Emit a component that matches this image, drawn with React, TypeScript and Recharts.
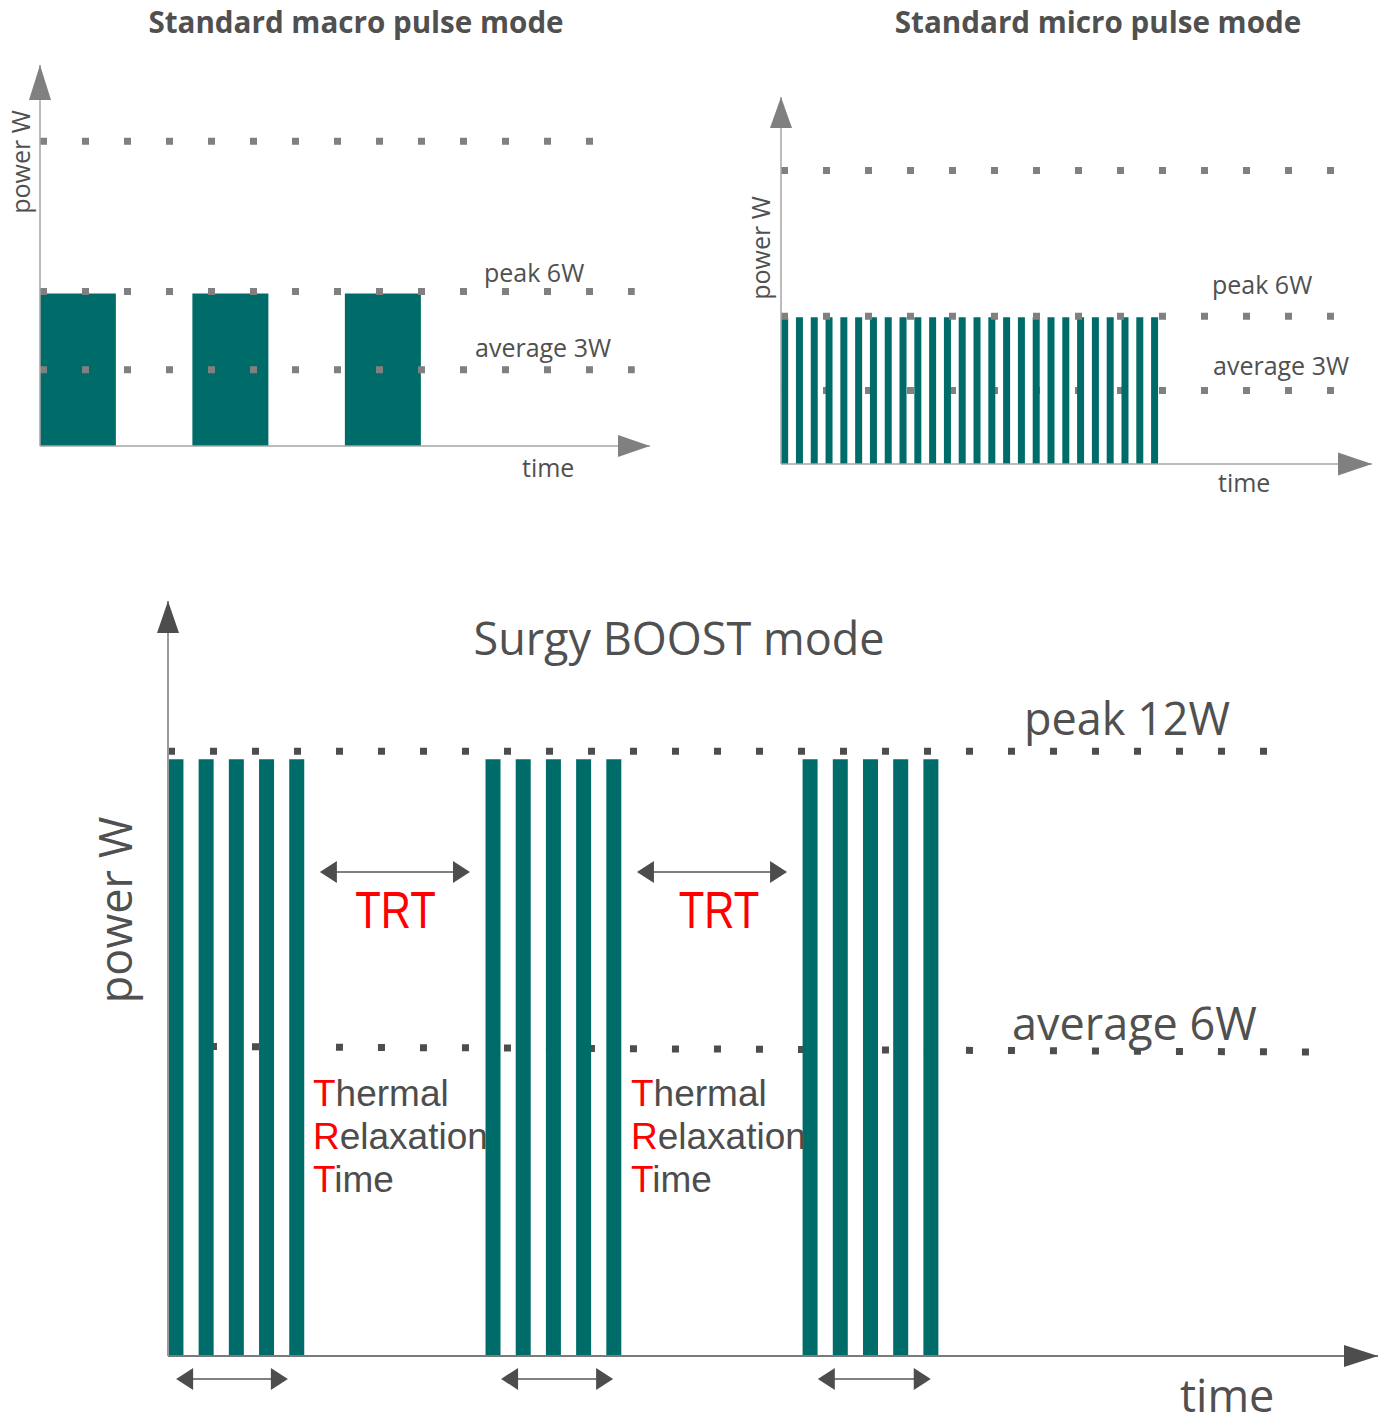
import React from 'react';
import { ComposedChart, Bar, XAxis, YAxis, ReferenceLine, ReferenceDot } from 'recharts';

// pulse centres (in pulse-slot units) and power in W
const macroTime = [0.5, 2.5, 4.5];
const macroPower = [6, 6, 6];

const microTime = [0, 1, 2, 3, 4, 5, 6, 7, 8, 9, 10, 11, 12, 13, 14, 15, 16, 17, 18, 19, 20, 21, 22, 23, 24, 25];
const microPower = [6, 6, 6, 6, 6, 6, 6, 6, 6, 6, 6, 6, 6, 6, 6, 6, 6, 6, 6, 6, 6, 6, 6, 6, 6, 6];

const boostTime = [0, 1, 2, 3, 4, 10.5, 11.5, 12.5, 13.5, 14.5, 21, 22, 23, 24, 25];
const boostPower = [12, 12, 12, 12, 12, 12, 12, 12, 12, 12, 12, 12, 12, 12, 12];

// guide levels: top guide, peak, average
const standardLevels = [12, 6, 3];
const boostLevels = [12, 6];

// thermal relaxation time spans and burst spans (time units)
const trtSpans = [[4.78, 9.75], [15.28, 20.25]];
const trtLevel = 9.73;
const burstSpans = [[0.02, 3.72], [10.78, 14.49], [21.27, 25.01]];
const burstLevel = -0.46;

const TEAL = '#006c69';
const GREY = '#808080';
const DARK = '#4d4d4d';
const TEXT = '#505050';

const macroData = macroTime.map((t, i) => ({ t, p: macroPower[i] }));
const microData = microTime.map((t, i) => ({ t, p: microPower[i] }));
const boostData = boostTime.map((t, i) => ({ t, p: boostPower[i] }));

const arrowRight = (len: number, half: number, fill: string) => (p: any) => (
  <polygon points={`${p.cx},${p.cy} ${p.cx - len},${p.cy - half} ${p.cx - len},${p.cy + half}`} fill={fill} />
);
const arrowUp = (len: number, half: number, fill: string) => (p: any) => (
  <polygon points={`${p.cx},${p.cy} ${p.cx - half},${p.cy + len} ${p.cx + half},${p.cy + len}`} fill={fill} />
);

const dotted = (color: string, size: number, liftL = 0, liftR = 0) => (p: any) => (
  <line
    x1={p.x1}
    y1={p.y1 - liftL}
    x2={p.x2}
    y2={p.y2 - liftR}
    stroke={color}
    strokeWidth={size}
    strokeDasharray={`${size} ${42 - size}`}
  />
);

const doubleArrow = (p: any) => {
  const { x1, x2, y1: y } = p;
  return (
    <g>
      <line x1={x1 + 10} y1={y} x2={x2 - 10} y2={y} stroke={GREY} strokeWidth={2} />
      <polygon points={`${x1},${y} ${x1 + 17},${y - 11} ${x1 + 17},${y + 11}`} fill={DARK} />
      <polygon points={`${x2},${y} ${x2 - 17},${y - 11} ${x2 - 17},${y + 11}`} fill={DARK} />
    </g>
  );
};

const axisLine = (color: string, width: number) => (p: any) => (
  <line x1={p.x1} y1={p.y1} x2={p.x2} y2={p.y2} stroke={color} strokeWidth={width} />
);

const MacroChart = () => (
  <div style={{ position: 'absolute', left: 0, top: 0 }}>
    <ComposedChart width={690} height={510} data={macroData} margin={{ top: 65, left: 40, right: 40, bottom: 64 }}>
      <XAxis type="number" dataKey="t" domain={[0, 8]} allowDataOverflow hide />
      <YAxis type="number" domain={[0, 15]} allowDataOverflow hide />
      <Bar dataKey="p" fill={TEAL} barSize={76} isAnimationActive={false} />
      <ReferenceLine y={0} ifOverflow="visible" shape={axisLine('#a6a6a6', 1.5)} zIndex={500} />
      <ReferenceLine x={0} ifOverflow="visible" shape={axisLine('#a6a6a6', 1.5)} zIndex={500} />
      <ReferenceLine segment={[{ x: 0, y: standardLevels[0] }, { x: 7.29, y: standardLevels[0] }]} shape={dotted(GREY, 7)} zIndex={350} />
      <ReferenceLine segment={[{ x: 0, y: standardLevels[1] }, { x: 7.8, y: standardLevels[1] }]} shape={dotted(GREY, 7, 2, 2)} zIndex={350} />
      <ReferenceLine segment={[{ x: 0, y: standardLevels[2] }, { x: 7.8, y: standardLevels[2] }]} shape={dotted(GREY, 7)} zIndex={350} />
      <ReferenceDot x={8} y={0} ifOverflow="visible" shape={arrowRight(32, 11, GREY)} zIndex={600} />
      <ReferenceDot x={0} y={15} ifOverflow="visible" shape={arrowUp(35, 11, GREY)} zIndex={600} />
    </ComposedChart>
  </div>
);

const MicroChart = () => (
  <div style={{ position: 'absolute', left: 700, top: 0 }}>
    <ComposedChart width={681} height={520} data={microData} margin={{ top: 97, left: 81, right: 9, bottom: 56 }}>
      <XAxis type="number" dataKey="t" domain={[-0.24, 39.7]} allowDataOverflow hide />
      <YAxis type="number" domain={[0, 15]} allowDataOverflow hide />
      <ReferenceLine segment={[{ x: -0.24, y: standardLevels[2] }, { x: 37.33, y: standardLevels[2] }]} shape={dotted(GREY, 7)} zIndex={250} />
      <Bar dataKey="p" fill={TEAL} barSize={7} isAnimationActive={false} />
      <ReferenceLine y={0} ifOverflow="visible" shape={axisLine('#a6a6a6', 1.5)} zIndex={500} />
      <ReferenceLine x={-0.24} ifOverflow="visible" shape={axisLine('#a6a6a6', 1.5)} zIndex={500} />
      <ReferenceLine segment={[{ x: -0.24, y: standardLevels[0] }, { x: 37.33, y: standardLevels[0] }]} shape={dotted(GREY, 7)} zIndex={350} />
      <ReferenceLine segment={[{ x: -0.24, y: standardLevels[1] }, { x: 37.33, y: standardLevels[1] }]} shape={dotted(GREY, 7, 1, 1)} zIndex={350} />
      <ReferenceDot x={39.7} y={0} ifOverflow="visible" shape={arrowRight(34, 11.5, GREY)} zIndex={600} />
      <ReferenceDot x={-0.24} y={15} ifOverflow="visible" shape={arrowUp(31, 11, GREY)} zIndex={600} />
    </ComposedChart>
  </div>
);

const BoostChart = () => (
  <div style={{ position: 'absolute', left: 0, top: 560 }}>
    <ComposedChart width={1381} height={865} data={boostData} margin={{ top: 41, left: 168, right: 3, bottom: 69 }}>
      <XAxis type="number" dataKey="t" domain={[-0.25, 39.82]} allowDataOverflow hide />
      <YAxis type="number" domain={[0, 15.18]} allowDataOverflow hide />
      <ReferenceLine segment={[{ x: 1.14, y: boostLevels[1] }, { x: 37.76, y: boostLevels[1] }]} shape={dotted(DARK, 7, 11, 5.5)} zIndex={250} />
      <Bar dataKey="p" fill={TEAL} barSize={15} isAnimationActive={false} />
      <ReferenceLine y={0} ifOverflow="visible" shape={axisLine('#7a7a7a', 2)} zIndex={500} />
      <ReferenceLine x={-0.25} ifOverflow="visible" shape={axisLine('#9a9a9a', 2)} zIndex={500} />
      <ReferenceLine segment={[{ x: -0.25, y: boostLevels[0] }, { x: 36.4, y: boostLevels[0] }]} shape={dotted(DARK, 7, 8, 8)} zIndex={350} />
      {trtSpans.map(([a, b], i) => (
        <ReferenceLine key={`trt${i}`} segment={[{ x: a, y: trtLevel }, { x: b, y: trtLevel }]} shape={doubleArrow} zIndex={600} />
      ))}
      {burstSpans.map(([a, b], i) => (
        <ReferenceLine key={`burst${i}`} ifOverflow="visible" segment={[{ x: a, y: burstLevel }, { x: b, y: burstLevel }]} shape={doubleArrow} zIndex={600} />
      ))}
      <ReferenceDot x={39.82} y={0} ifOverflow="visible" shape={arrowRight(34, 11, DARK)} zIndex={600} />
      <ReferenceDot x={-0.25} y={15.18} ifOverflow="visible" shape={arrowUp(32, 11, DARK)} zIndex={600} />
    </ComposedChart>
  </div>
);

const Acronym = ({ x, y, words }: { x: number; y: number; words: string[] }) => (
  <text x={x} y={y} fontFamily="'Liberation Sans', Arial, sans-serif" fontSize={37} fill={DARK}>
    {words.map((w, i) => (
      <tspan key={w} x={x} dy={i === 0 ? 0 : 43}>
        <tspan fill="#ff0000">{w[0]}</tspan>
        {w.slice(1)}
      </tspan>
    ))}
  </text>
);

const Labels = () => (
  <svg
    width={1381}
    height={1425}
    style={{ position: 'absolute', left: 0, top: 0, pointerEvents: 'none' }}
    fontFamily="'Open Sans', sans-serif"
    fill={TEXT}
  >
    <text x={356} y={33} textAnchor="middle" fontSize={29.6} fontWeight={700}>Standard macro pulse mode</text>
    <text x={1098} y={33} textAnchor="middle" fontSize={29.6} fontWeight={700}>Standard micro pulse mode</text>

    <text x={484} y={282} fontSize={25}>peak 6W</text>
    <text x={475} y={357} fontSize={25}>average 3W</text>
    <text x={522} y={477} fontSize={25}>time</text>
    <text transform="translate(30,162) rotate(-90)" textAnchor="middle" fontSize={25}>power W</text>

    <text x={1212} y={294} fontSize={25}>peak 6W</text>
    <text x={1213} y={375} fontSize={25}>average 3W</text>
    <text x={1218} y={492} fontSize={25}>time</text>
    <text transform="translate(770,248) rotate(-90)" textAnchor="middle" fontSize={25}>power W</text>

    <text x={679} y={655} textAnchor="middle" fontSize={45}>Surgy BOOST mode</text>
    <text x={1024} y={735} fontSize={45}>peak 12W</text>
    <text x={1012} y={1040} fontSize={45}>average 6W</text>
    <text x={1180} y={1412} fontSize={45}>time</text>
    <text transform="translate(132,910) rotate(-90)" textAnchor="middle" fontSize={45}>power W</text>

    <text transform="translate(395.5,928) scale(0.82,1)" textAnchor="middle" fontFamily="'Liberation Sans', Arial, sans-serif" fontSize={51} fill="#ff0000">TRT</text>
    <text transform="translate(719,928) scale(0.82,1)" textAnchor="middle" fontFamily="'Liberation Sans', Arial, sans-serif" fontSize={51} fill="#ff0000">TRT</text>

    <Acronym x={313} y={1106} words={['Thermal', 'Relaxation', 'Time']} />
    <Acronym x={631} y={1106} words={['Thermal', 'Relaxation', 'Time']} />
  </svg>
);

export default function App() {
  return (
    <div style={{ position: 'absolute', left: 0, top: 0, width: 1381, height: 1425, background: '#fff', overflow: 'hidden' }}>
      <MacroChart />
      <MicroChart />
      <BoostChart />
      <Labels />
    </div>
  );
}
